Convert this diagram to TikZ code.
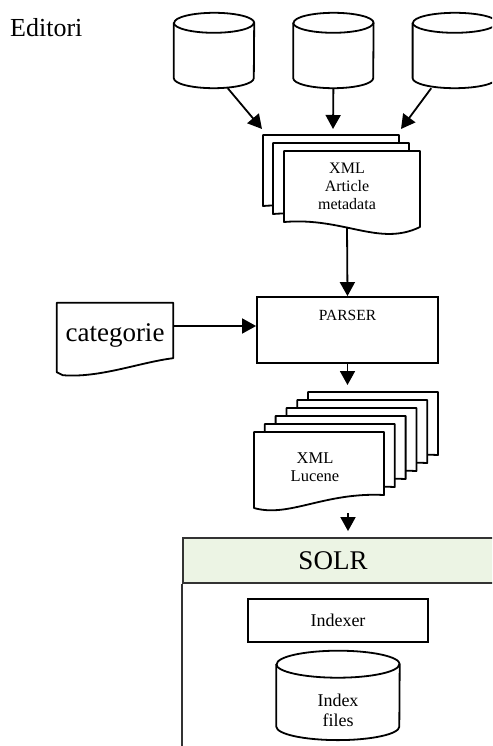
\documentclass[tikz,border=0pt]{standalone}
\usepackage{fontspec}
\setmainfont{Liberation Serif}
\usetikzlibrary{positioning,arrows.meta}

\definecolor{solrgreen}{RGB}{236,244,228}

\tikzset{
	arr/.style={line width=1.8pt, -{Triangle[length=14pt,width=15pt]}},
	db/.style={minimum width=80pt, minimum height=75pt, inner sep=0pt},
	page/.style={draw, line width=1.8pt, fill=white, line join=round},
	box/.style={draw, line width=1.8pt, fill=white},
	small/.style={font=\fontsize{16}{18}\selectfont, align=center},
}

\begin{document}
\begin{tikzpicture}[x=1pt, y=-1pt]
	\useasboundingbox (0,0) rectangle (492,746);
	\clip (0,0) rectangle (492,746);

	\node (editori) [anchor=base west, inner sep=0pt, font=\fontsize{26}{30}\selectfont] at (10,37) {Editori};
	\node (ed1) [db] at (214,50.5) {};
	\node (ed2) [db, right=39pt of ed1] {};
	\node (ed3) [db, right=39pt of ed2, minimum width=84pt] {};

	\foreach \dx/\dy in {0/0,10/8,21/16}
		\draw[page] ({263+\dx},{135+\dy}) -- ({399+\dx},{135+\dy}) -- ({399+\dx},{211+\dy}) .. controls ({358+\dx},{231+\dy}) and ({323+\dx},{201+\dy}) .. ({263+\dx},{206+\dy}) -- cycle;
	\node (meta) [small] at (347,186) {XML\\Article\\metadata};
	\coordinate (metabot) at (347,227);
	\coordinate (in1) at (262,129);
	\coordinate (in2) at (333,129);
	\coordinate (in3) at (401,129);

	\draw[arr] (ed1.-70) -- (in1);
	\draw[arr] (ed2.south) -- (in2);
	\draw[arr] (ed3.-122) -- (in3);

	\node (parser) [box, minimum width=181pt, minimum height=66pt, label={[anchor=north, yshift=-11pt, font=\fontsize{15.5}{18}\selectfont]north:PARSER}] at (347.5,330) {};
	\draw[arr] (metabot) -- (parser.north);

	\node (categ) [minimum width=116pt, minimum height=72pt, label={[font=\fontsize{27}{30}\selectfont, yshift=4pt]center:categorie}] at (115,339) {};
	\draw[line width=1.8pt, line join=round] (categ.north west) -- (categ.north east) -- ([yshift=17pt]categ.south east) .. controls ([xshift=-33pt,yshift=13pt]categ.south east) and ([xshift=43pt,yshift=-3pt]categ.south west) .. ([xshift=6pt]categ.south west) -- ([yshift=3pt]categ.south west) -- cycle;
	\coordinate (catout) at ([yshift=13pt]categ.east);
	\draw[arr] (catout) -- (catout -| parser.west);

	\foreach \i in {5,4,...,0}
		\draw[page] ({254+10.8*\i},{432-8*\i}) -- ({384+10.8*\i},{432-8*\i}) -- ({384+10.8*\i},{495-8*\i}) .. controls ({324+10.8*\i},{492-8*\i}) and ({289+10.8*\i},{518-8*\i}) .. ({254+10.8*\i},{508-8*\i}) -- cycle;
	\node (lucene) [font=\fontsize{16.5}{18.5}\selectfont, align=center] at (315,467) {XML\\Lucene};
	\coordinate (lucstack) at (347.5,392);
	\coordinate (lucbot) at (348,513);
	\draw[arr, shorten >=7pt] (parser.south) -- (lucstack);

	\node (solr) [draw=black!80, line width=1.8pt, fill=solrgreen, minimum width=330pt, minimum height=45pt, label={[font=\fontsize{27}{30}\selectfont, xshift=-15pt]center:SOLR}] at (348,560.5) {};
	\draw[line width=1.8pt, draw=black!80] (solr.south west) -- ++(0,200);
	\draw[arr, shorten >=6pt] (lucbot) -- (lucbot |- solr.north);
	\node (indexer) [box, minimum width=180pt, minimum height=43pt, below=14pt of solr, xshift=-10pt, font=\fontsize{18}{21}\selectfont] {Indexer};
	\node (index) [db, minimum width=123pt, minimum height=89pt, below=8pt of indexer] {};

	\foreach \n/\rx/\ry in {ed1/40/10,ed2/40/10,ed3/42/10,index/61.5/13.5} {
		\draw[page] ([yshift=-\ry*1pt]\n.north west) -- ([yshift=\ry*1pt]\n.south west) arc[start angle=180, end angle=360, x radius=\rx*1pt, y radius=\ry*1pt] -- ([yshift=-\ry*1pt]\n.north east) arc[start angle=0, end angle=180, x radius=\rx*1pt, y radius=\ry*1pt] -- cycle;
		\draw[line width=1.8pt] ([yshift=-\ry*1pt]\n.north west) arc[start angle=180, end angle=360, x radius=\rx*1pt, y radius=\ry*1pt];
	}
	\node (indextext) [font=\fontsize{18}{20}\selectfont, align=center] at ([yshift=-15pt]index.center) {Index\\files};
\end{tikzpicture}
\end{document}
